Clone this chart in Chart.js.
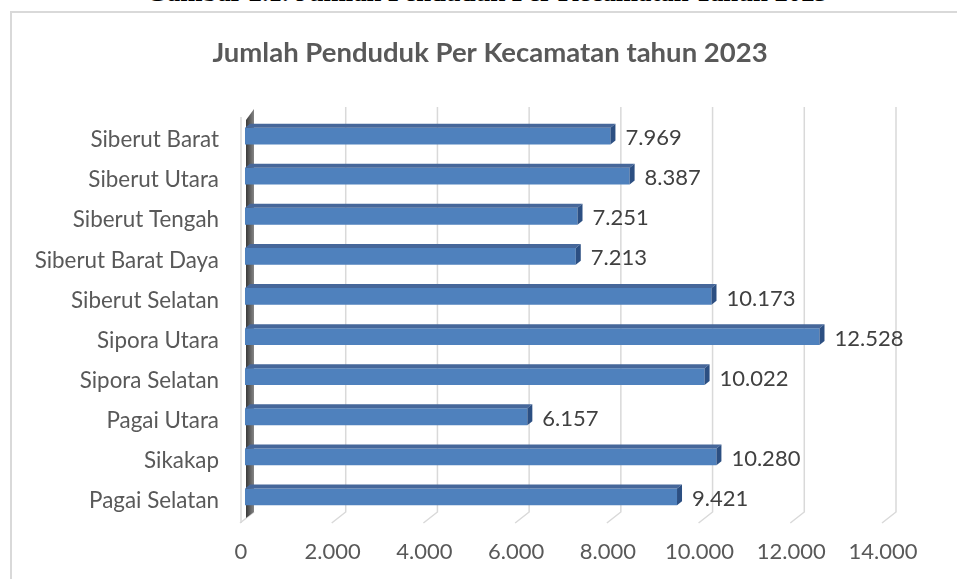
<!DOCTYPE html>
<html>
<head>
<meta charset="utf-8">
<script src="https://cdn.jsdelivr.net/npm/chart.js@4"></script>
<style>
  body { margin: 0; width: 957px; height: 579px; overflow: hidden; background: #fff; position: relative; }
  #caption { position: absolute; left: 0; top: -23px; width: 974px; text-align: center;
    font: bold 26.7px/30px "Liberation Serif", serif; color: #000; white-space: nowrap; }
  #frame { position: absolute; left: 10px; top: 11px; width: 1000px; height: 1000px;
    border: 2px solid #d9d9d9; }
  #chart { position: absolute; left: 0; top: 0; }
</style>
</head>
<body>
<div id="caption">Gambar 2.1. Jumlah Penduduk Per Kecamatan Tahun 2023</div>
<div id="frame"></div>
<canvas id="chart" width="980" height="579"></canvas>
<script>
const kecamatan = ['Siberut Barat', 'Siberut Utara', 'Siberut Tengah', 'Siberut Barat Daya', 'Siberut Selatan',
                   'Sipora Utara', 'Sipora Selatan', 'Pagai Utara', 'Sikakap', 'Pagai Selatan'];
const penduduk = [7969, 8387, 7251, 7213, 10173, 12528, 10022, 6157, 10280, 9421];
const xTicks = [0, 2000, 4000, 6000, 8000, 10000, 12000, 14000];

const fmt = v => String(v).replace(/\B(?=(\d{3})+(?!\d))/g, '.');
const FONT = 'Lato, Calibri, sans-serif';

// 3D look: back wall grid lines, floor lines and the dark side wall
const wall3d = {
    id: 'wall3d',
    beforeDatasetsDraw(chart) {
        const { ctx, chartArea: a, scales: { x } } = chart;
        ctx.save();
        ctx.strokeStyle = '#d9d9d9';
        ctx.lineWidth = 1.5;
        xTicks.forEach(v => {
            const px = x.getPixelForValue(v);
            ctx.beginPath();
            if (v !== 0) ctx.moveTo(px + 9, a.top - 9);
            else ctx.moveTo(px + 9, a.bottom - 5);
            ctx.lineTo(px + 9, a.bottom - 5);
            ctx.lineTo(px - 5, a.bottom + 6);
            ctx.stroke();
        });
        const p0 = x.getPixelForValue(0);
        // front edge of the wall
        ctx.beginPath();
        ctx.moveTo(p0 - 4, a.top + 1);
        ctx.lineTo(p0 - 4, a.bottom + 6);
        ctx.stroke();
        // dark wall
        const g = ctx.createLinearGradient(p0 + 1, 0, p0 + 9, 0);
        g.addColorStop(0, '#3a3a3a');
        g.addColorStop(1, '#858585');
        ctx.fillStyle = g;
        ctx.beginPath();
        ctx.moveTo(p0 + 1, a.top + 4);
        ctx.lineTo(p0 + 9, a.top - 7);
        ctx.lineTo(p0 + 9, a.bottom - 5);
        ctx.lineTo(p0 + 1, a.bottom + 1);
        ctx.closePath();
        ctx.fill();
        ctx.restore();
    }
};

// top and end faces of the bars + value labels
const bar3d = {
    id: 'bar3d',
    afterDatasetsDraw(chart) {
        const { ctx } = chart;
        const meta = chart.getDatasetMeta(0);
        ctx.save();
        meta.data.forEach((bar, i) => {
            const top = bar.y - bar.height / 2, bot = bar.y + bar.height / 2;
            const dx = 5, dy = 4;
            ctx.fillStyle = '#46679a';
            ctx.beginPath();
            ctx.moveTo(bar.base, top);
            ctx.lineTo(bar.x, top);
            ctx.lineTo(bar.x + dx, top - dy);
            ctx.lineTo(bar.base + dx, top - dy);
            ctx.closePath();
            ctx.fill();
            ctx.fillStyle = '#2c4f82';
            ctx.beginPath();
            ctx.moveTo(bar.x, top);
            ctx.lineTo(bar.x + dx, top - dy);
            ctx.lineTo(bar.x + dx, bot - dy);
            ctx.lineTo(bar.x, bot);
            ctx.closePath();
            ctx.fill();

            ctx.fillStyle = '#404040';
            ctx.font = '22px ' + FONT;
            ctx.textAlign = 'left';
            ctx.textBaseline = 'middle';
            ctx.fillText(fmt(penduduk[i]), bar.x + 15, bar.y + 2);
        });
        ctx.restore();
    }
};

const ctx = document.getElementById('chart').getContext('2d');
new Chart(ctx, {
    type: 'bar',
    data: {
        labels: kecamatan,
        datasets: [{
            data: penduduk,
            backgroundColor: c => {
                const bar = c.element;
                if (!bar || bar.height === undefined) return '#4f81bd';
                const t = bar.y - bar.height / 2, b = bar.y + bar.height / 2;
                const g = c.chart.ctx.createLinearGradient(0, t, 0, b);
                g.addColorStop(0, '#6c9ad9');
                g.addColorStop(0.5, '#5888cb');
                g.addColorStop(0.9, '#3f71b6');
                g.addColorStop(1, '#5b86c2');
                return g;
            },
            borderWidth: 0,
            barPercentage: 0.42,
            categoryPercentage: 1
        }]
    },
    options: {
        indexAxis: 'y',
        responsive: false,
        animation: false,
        layout: { padding: 0 },
        plugins: {
            legend: { display: false },
            tooltip: { enabled: false },
            title: {
                display: true,
                text: 'Jumlah Penduduk Per Kecamatan tahun 2023',
                color: '#595959',
                font: { family: FONT, size: 27.5, weight: 'bold', lineHeight: 1.2 },
                padding: { top: 37, bottom: 46 }
            }
        },
        scales: {
            x: {
                min: 0,
                max: 14000,
                afterBuildTicks: s => { s.ticks = xTicks.map(v => ({ value: v })); },
                afterFit: s => { s.height = 62; },
                grid: { display: false, drawTicks: false },
                border: { display: false },
                ticks: {
                    color: '#595959',
                    font: { family: FONT, size: 22 },
                    padding: 22,
                    labelOffset: -4,
                    maxRotation: 0,
                    callback: v => fmt(v)
                }
            },
            y: {
                afterFit: s => { s.width = 245; },
                grid: { display: false, drawTicks: false },
                border: { display: false },
                ticks: {
                    color: '#595959',
                    font: { family: FONT, size: 22.4 },
                    padding: 26,
                    labelOffset: 4
                }
            },
            // empty right-hand axis, only keeps the space right of the bars
            yRight: {
                type: 'category',
                position: 'right',
                afterFit: s => { s.width = 93; },
                grid: { display: false, drawTicks: false },
                border: { display: false },
                ticks: { display: false }
            }
        }
    },
    plugins: [wall3d, bar3d]
});
</script>
</body>
</html>
